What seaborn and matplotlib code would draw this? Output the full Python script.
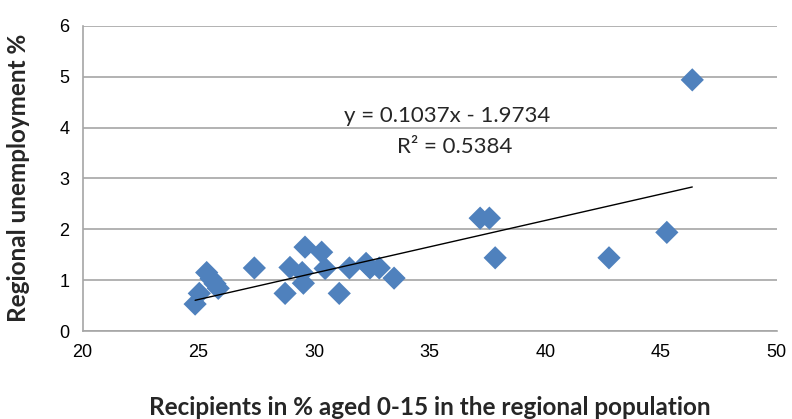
import numpy as np
import pandas as pd
import matplotlib
matplotlib.use("Agg")
import matplotlib.pyplot as plt
import seaborn as sns

# values
recipients = [24.86, 25.04, 25.36, 25.55, 25.72, 25.86, 27.42, 28.75, 28.96, 29.49,
              29.54, 29.61, 30.33, 30.48, 31.09, 31.53, 32.25, 32.42, 32.82, 33.46,
              37.18, 37.58, 37.83, 42.75, 45.25, 46.35]
unemployment = [0.53, 0.74, 1.15, 1.03, 0.93, 0.84, 1.24, 0.74, 1.25, 1.15,
                0.94, 1.65, 1.55, 1.23, 0.74, 1.24, 1.33, 1.24, 1.24, 1.04,
                2.22, 2.22, 1.44, 1.44, 1.94, 4.94]

# trendline as printed on the chart
slope = 0.1037
intercept = -1.9734
r_squared = 0.5384

df = pd.DataFrame({'recipients': recipients, 'unemployment': unemployment})

sns.set_style('white')
plt.rcParams['font.family'] = ['Liberation Sans', 'DejaVu Sans']

fig, ax = plt.subplots(figsize=(7.92, 4.19), dpi=100)
fig.subplots_adjust(left=0.1044, right=0.9807, top=0.938, bottom=0.21)

ax.grid(axis='y', color='#a6a6a6', linewidth=1.2)
ax.set_axisbelow(True)

sns.scatterplot(data=df, x='recipients', y='unemployment', marker='D',
                s=140, color='#4f81bd', edgecolor='none', ax=ax, zorder=3)

# linear trendline over the data range
xs = np.array([min(recipients), max(recipients)])
ax.plot(xs, slope * xs + intercept, color='black', linewidth=1, zorder=4)

ax.text(35.75, 4.23, f'y = {slope}x - {abs(intercept)}', ha='center', va='center',
        fontsize=16, family=['Lato', 'DejaVu Sans'])
ax.text(36.1, 3.62, f'R² = {r_squared}', ha='center', va='center',
        fontsize=16, family=['Lato', 'DejaVu Sans'])

ax.set_xlim(20, 50)
ax.set_ylim(0, 6)
ax.set_xticks(range(20, 51, 5))
ax.set_yticks(range(0, 7))
ax.tick_params(axis='both', labelsize=13, colors='#000000', direction='out',
               length=6, color='#a6a6a6', width=1.2)

for side in ['top', 'right']:
    ax.spines[side].set_visible(False)
for side in ['left', 'bottom']:
    ax.spines[side].set_color('#a6a6a6')
    ax.spines[side].set_linewidth(1.2)

ax.set_xlabel('Recipients in % aged 0-15 in the regional population', fontsize=17.5,
              fontweight='bold', family=['Lato', 'DejaVu Sans'], va='center')
ax.set_ylabel('Regional unemployment %', fontsize=17.5, fontweight='bold',
              family=['Lato', 'DejaVu Sans'], va='center')
ax.xaxis.set_label_coords(0.5, -0.252)
ax.yaxis.set_label_coords(-0.093, 0.502)

plt.savefig('out.png', dpi=100)
